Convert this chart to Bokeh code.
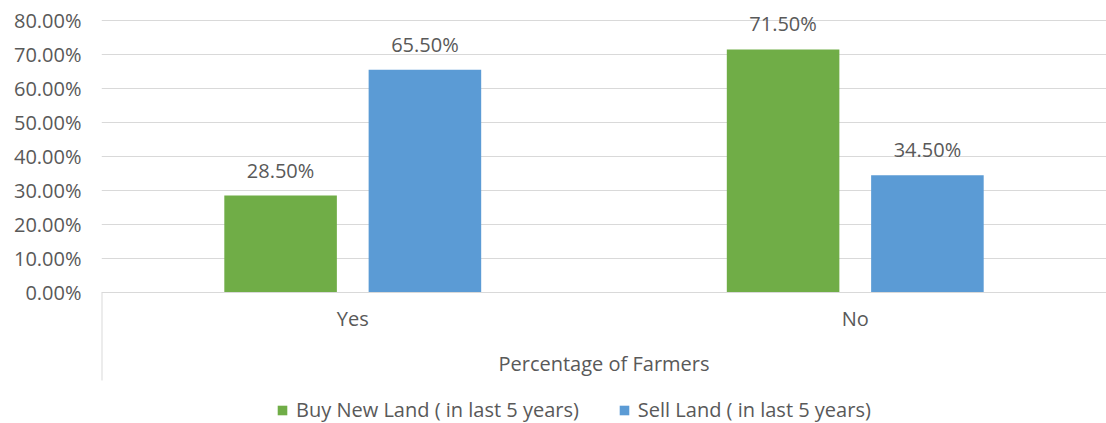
from bokeh.plotting import figure
from bokeh.models import (ColumnDataSource, FactorRange, NumeralTickFormatter, FixedTicker,
                          LabelSet, Legend, LegendItem, Range1d)
from bokeh.core.properties import value
from bokeh.transform import dodge
from bokeh.embed import file_html
from bokeh.resources import INLINE

categories = ["Yes", "No"]
buy_new_land = [0.285, 0.715]
sell_land = [0.655, 0.345]
buy_labels = ["28.50%", "71.50%"]
sell_labels = ["65.50%", "34.50%"]
y_ticks = [0.0, 0.1, 0.2, 0.3, 0.4, 0.5, 0.6, 0.7, 0.8]
series_names = ["Buy New Land ( in last 5 years)", "Sell Land ( in last 5 years)"]
x_title = "Percentage of Farmers"

GREEN = "#70AD47"
BLUE = "#5B9BD5"
TXT = "#595959"
GRID = "#D9D9D9"
FONT = "Open Sans"
FS = "20px"

# the frame reaches below zero so that the category-axis box line and legend sit inside it,
# and a little above 80% so the top data label is not clipped
Y_MIN = -0.3853
Y_MAX = 0.8294
BOX_DEPTH = -0.2588

src = ColumnDataSource(dict(cat=categories, buy=buy_new_land, sell=sell_land,
                            buy_lab=buy_labels, sell_lab=sell_labels))

p = figure(frame_width=1005, frame_height=413, x_range=FactorRange(*categories),
           y_range=Range1d(Y_MIN, Y_MAX),
           output_backend="svg", toolbar_location=None,
           min_border_left=101, min_border_right=0, min_border_top=10, min_border_bottom=0)
p.outline_line_color = None

r1 = p.vbar(x=dodge("cat", -0.1436, range=p.x_range), top="buy", width=0.224, source=src,
            fill_color=GREEN, line_color=None)
r2 = p.vbar(x=dodge("cat", 0.1436, range=p.x_range), top="sell", width=0.224, source=src,
            fill_color=BLUE, line_color=None)

for col, lab, off in (("buy", "buy_lab", -0.1436), ("sell", "sell_lab", 0.1436)):
    ls = LabelSet(x=dodge("cat", off, range=p.x_range), y=col, text=lab, source=src,
                  text_align="center", text_baseline="bottom", y_offset=12,
                  text_font=value(FONT), text_font_size=value(FS), text_color=TXT)
    p.add_layout(ls)

# left border line of the category axis area
p.segment(x0=[0], y0=[0], x1=[0], y1=[BOX_DEPTH], line_color=GRID, line_width=2)

p.yaxis.ticker = FixedTicker(ticks=y_ticks)
p.yaxis.formatter = NumeralTickFormatter(format="0.00%")
p.yaxis.axis_line_color = None
p.yaxis.major_tick_line_color = None
p.yaxis.minor_tick_line_color = None
p.yaxis.major_label_standoff = 14
p.yaxis.major_label_text_font = FONT
p.yaxis.major_label_text_font_size = FS
p.yaxis.major_label_text_color = TXT

p.xaxis.fixed_location = 0
p.xaxis.axis_line_color = GRID
p.xaxis.major_tick_line_color = None
p.xaxis.minor_tick_line_color = None
p.xaxis.major_label_standoff = 7
p.xaxis.major_label_text_font = FONT
p.xaxis.major_label_text_font_size = FS
p.xaxis.major_label_text_color = TXT
p.xaxis.axis_label = x_title
p.xaxis.axis_label_standoff = 14
p.xaxis.axis_label_text_font = FONT
p.xaxis.axis_label_text_font_size = FS
p.xaxis.axis_label_text_font_style = "normal"
p.xaxis.axis_label_text_color = TXT

p.xgrid.grid_line_color = None
p.ygrid.grid_line_color = GRID
p.ygrid.ticker = FixedTicker(ticks=y_ticks)

legend = Legend(items=[LegendItem(label=series_names[0], renderers=[r1]),
                       LegendItem(label=series_names[1], renderers=[r2])],
                orientation="horizontal", location=(175, 0),
                label_text_font=FONT, label_text_font_size=FS, label_text_color=TXT,
                glyph_width=12, glyph_height=12, label_standoff=8, spacing=39,
                border_line_color=None, background_fill_alpha=0, margin=0, padding=0)
p.add_layout(legend)

open("out.html", "w").write(file_html(p, INLINE))
